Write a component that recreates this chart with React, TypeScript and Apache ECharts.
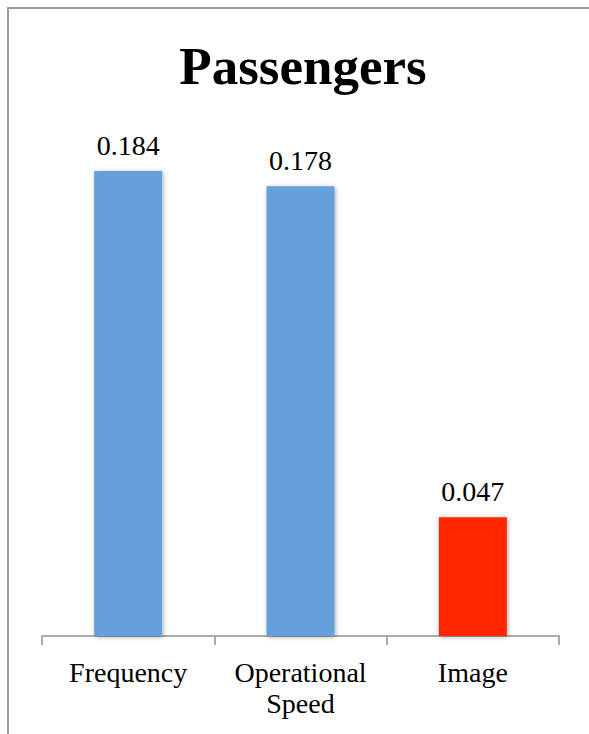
import React, { useEffect, useRef } from "react";
import * as echarts from "echarts";

const categories = ["Frequency", "Operational\nSpeed", "Image"];
const values = [0.184, 0.178, 0.047];
const barColors = ["#65A0DD", "#65A0DD", "#FF2600"];
const titleText = "Passengers";

const FONT = "'Liberation Serif', 'DejaVu Serif', serif";

export default function App() {
  const ref = useRef<HTMLDivElement>(null);

  useEffect(() => {
    if (!ref.current) return;
    const chart = echarts.init(ref.current, undefined, { renderer: "svg" });
    chart.setOption({
      animation: false,
      backgroundColor: "#ffffff",
      title: {
        text: titleText,
        left: 298,
        textAlign: "center",
        top: 34,
        textStyle: {
          fontFamily: FONT,
          fontWeight: "bold",
          fontSize: 53,
          color: "#000000",
        },
      },
      graphic: [
        {
          type: "line",
          shape: { x1: 8, y1: 8, x2: 589, y2: 8 },
          style: { stroke: "#9b9b9b", lineWidth: 2 },
          silent: true,
        },
        {
          type: "line",
          shape: { x1: 8, y1: 7, x2: 8, y2: 734 },
          style: { stroke: "#9b9b9b", lineWidth: 2 },
          silent: true,
        },
      ],
      grid: { left: 42, right: 30, top: 130.6, bottom: 98 },
      xAxis: {
        type: "category",
        data: categories,
        axisLine: { show: true, lineStyle: { color: "#ababab", width: 2 } },
        axisTick: { show: true, length: 9, lineStyle: { color: "#ababab", width: 2 } },
        axisLabel: {
          margin: 21,
          fontFamily: FONT,
          fontSize: 28,
          lineHeight: 31,
          color: "#000000",
          interval: 0,
        },
      },
      yAxis: {
        type: "value",
        min: 0,
        max: 0.2,
        show: false,
        splitLine: { show: false },
      },
      series: [
        {
          type: "bar",
          barWidth: 68,
          data: values.map((v, i) => ({
            value: v,
            itemStyle: {
              color: barColors[i],
              shadowColor: "rgba(0,0,0,0.35)",
              shadowBlur: 4,
              shadowOffsetX: 1,
              shadowOffsetY: 1,
            },
          })),
          label: {
            show: true,
            position: "top",
            distance: 12,
            fontFamily: FONT,
            fontSize: 28,
            color: "#000000",
            formatter: (p: any) => p.value.toFixed(3),
          },
        },
      ],
    });
    return () => chart.dispose();
  }, []);

  return (
    <div
      ref={ref}
      style={{ position: "fixed", left: 0, top: 0, width: 589, height: 734 }}
    />
  );
}
